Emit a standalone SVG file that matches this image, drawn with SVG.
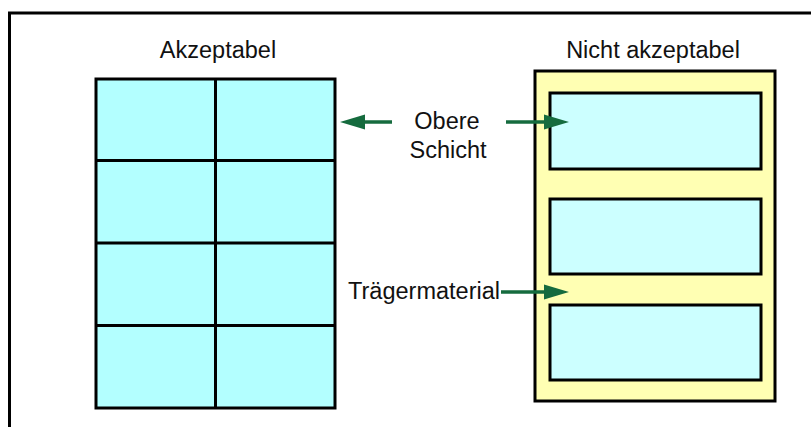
<svg xmlns="http://www.w3.org/2000/svg" width="811" height="427" viewBox="0 0 811 427">
<style>
text{font-family:"Liberation Sans",Arial,sans-serif;font-size:23.5px;fill:#111}
.grid{fill:#b3ffff;stroke:#000;stroke-width:3}
.ln{stroke:#000;stroke-width:3;fill:none}
.sub{fill:#ffffb3;stroke:#000;stroke-width:3}
.lay{fill:#ccffff;stroke:#000;stroke-width:3}
.arr{stroke:#156b3e;stroke-width:3.5;fill:none}
.head{fill:#156b3e}
</style>
<rect width="811" height="427" fill="#fff"/>
<path d="M9.5,427 V13 H811" fill="none" stroke="#000" stroke-width="3"/>
<g id="akzeptabel">
<text x="218" y="58" text-anchor="middle">Akzeptabel</text>
<rect class="grid" x="96" y="79" width="239" height="329"/>
<path class="ln" d="M215.5,79 V408 M96,160.5 H335 M96,243 H335 M96,325.5 H335"/>
</g>
<g id="nicht-akzeptabel">
<text x="653" y="58" text-anchor="middle">Nicht akzeptabel</text>
<rect class="sub" x="535" y="71" width="240" height="330"/>
<rect class="lay" x="550" y="93" width="211" height="76"/>
<rect class="lay" x="550" y="199" width="211" height="75"/>
<rect class="lay" x="550" y="305" width="211" height="75"/>
</g>
<g id="labels">
<text x="447" y="129" text-anchor="middle">Obere</text>
<text x="448" y="158" text-anchor="middle">Schicht</text>
<text x="500" y="299" text-anchor="end">Trägermaterial</text>
</g>
<g id="connectors">
<path class="arr" d="M392,122 H362"/>
<polygon class="head" points="340,122 365,114.5 365,129.5"/>
<path class="arr" d="M506,122 H547"/>
<polygon class="head" points="569,122 544,114.5 544,129.5"/>
<path class="arr" d="M501,292 H547"/>
<polygon class="head" points="569,292 544,284.5 544,299.5"/>
</g>
</svg>
